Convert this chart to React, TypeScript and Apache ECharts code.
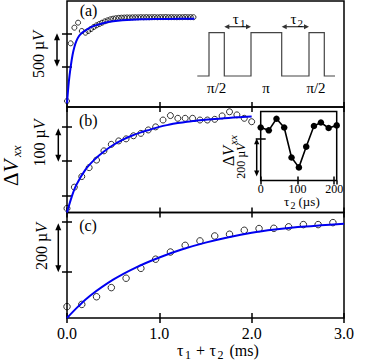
import React, { useEffect, useRef } from 'react';
import * as echarts from 'echarts';

// ---------- data ----------
// panel (a): time in ms, signal in µV (arbitrary offset)
const A_T = [0, 0.04, 0.08, 0.12, 0.16, 0.2, 0.23, 0.26, 0.29, 0.32, 0.35, 0.38, 0.41, 0.44, 0.47, 0.5, 0.53, 0.56, 0.59, 0.62, 0.65, 0.68, 0.71, 0.74, 0.77, 0.8, 0.83, 0.86, 0.89, 0.92, 0.95, 0.98, 1.01, 1.04, 1.07, 1.1, 1.13, 1.16, 1.19, 1.22, 1.25, 1.28, 1.31, 1.34, 1.37];
const A_V = [90, 955, 1190, 1265, 1140, 1115, 1140, 1170, 1200, 1225, 1245, 1265, 1285, 1300, 1315, 1325, 1332, 1337, 1340, 1342, 1344, 1343, 1345, 1346, 1345, 1347, 1346, 1348, 1346, 1347, 1348, 1346, 1348, 1347, 1349, 1347, 1348, 1347, 1346, 1348, 1347, 1349, 1347, 1348, 1347];
const A_FIT_T = [0, 0.02, 0.04, 0.06, 0.08, 0.1, 0.13, 0.16, 0.2, 0.25, 0.3, 0.4, 0.5, 0.6, 0.8, 1.0, 1.2, 1.38];
const A_FIT_V = [55, 380, 605, 780, 900, 985, 1065, 1110, 1150, 1190, 1220, 1260, 1285, 1300, 1315, 1320, 1322, 1323];

// panel (b)
const B_T = [0, 0.08, 0.16, 0.24, 0.32, 0.4, 0.48, 0.56, 0.64, 0.72, 0.8, 0.88, 0.96, 1.04, 1.12, 1.2, 1.28, 1.36, 1.44, 1.52, 1.6, 1.68, 1.76, 1.84, 1.92, 2.0];
const B_V = [12, 74, 105, 131, 153, 180, 199, 209, 215, 224, 231, 241, 250, 270, 283, 275, 275, 275, 270, 270, 272, 282, 294, 285, 275, 265];
const B_FIT_T = [0, 0.05, 0.1, 0.2, 0.3, 0.4, 0.5, 0.6, 0.7, 0.8, 0.9, 1.0, 1.1, 1.2, 1.3, 1.4, 1.5, 1.6, 1.7, 1.8, 1.9, 2.0];
const B_FIT_V = [0, 45, 80, 125, 155, 178, 197, 212, 224, 234, 242, 250, 256, 261, 265, 268, 271, 273, 275, 277, 279, 280];

// panel (c)
const C_T = [0, 0.16, 0.32, 0.48, 0.64, 0.8, 0.96, 1.12, 1.28, 1.44, 1.6, 1.76, 1.92, 2.08, 2.24, 2.4, 2.56, 2.72, 2.88];
const C_V = [46, 55, 86, 123, 161, 201, 238, 267, 294, 312, 332, 339, 355, 362, 363, 369, 378, 378, 386];
const C_FIT_T = [0, 0.125, 0.25, 0.5, 0.75, 1.0, 1.25, 1.5, 1.75, 2.0, 2.25, 2.5, 2.75, 3.0];
const C_FIT_V = [0, 48, 90, 155, 205, 245, 278, 305, 327, 345, 358, 368, 375, 381];

// inset: tau2 in µs, signal in µV
const IN_T = [0, 22, 43, 64, 84, 104, 124, 145, 164, 185, 207];
const IN_V = [279, 264, 325, 279, 121, 69, 178, 287, 305, 276, 290];

// axis tick values
const X_TICK_LABELS = ['0.0', '1.0', '2.0', '3.0'];
const A_TICKS = [600, 1100];
const B_TICKS = [50, 150, 250];
const C_TICKS = [188, 388];
const IN_TICKS = [222];

const SERIF = 'Liberation Serif';
const BLUE = '#0000f0';

const zip = (xs: number[], ys: number[]) => xs.map((x, i) => [x, ys[i]]);

function txt(x: number, y: number, text: string, size: number, opts: any = {}) {
  const align = opts.align || 'center';
  return {
    type: 'text', x, y, z: 20,
    style: {
      text, fontSize: size, fontFamily: SERIF, fill: opts.fill || '#000',
      fontStyle: opts.italic ? 'italic' : 'normal',
      align, verticalAlign: 'middle', textAlign: align, textVerticalAlign: 'middle',
      rich: opts.rich,
    },
  };
}

function muV(size: number) {
  return {
    n: { fontSize: size, fontFamily: SERIF, fill: '#000' },
    i: { fontSize: size, fontFamily: SERIF, fill: '#000', fontStyle: 'italic' },
  };
}

function rotLabel(x: number, y: number, text: string, size: number) {
  return {
    type: 'group', x, y, rotation: Math.PI / 2, z: 20,
    children: [txt(0, 0, text, size, { rich: muV(size) })],
  };
}

function vArrow(x: number, y1: number, y2: number, head = 7, half = 3) {
  return [
    { type: 'line', z: 20, shape: { x1: x, y1: y1 + head - 1, x2: x, y2: y2 - head + 1 }, style: { stroke: '#000', lineWidth: 1.5 } },
    { type: 'polygon', z: 20, shape: { points: [[x, y1], [x - half, y1 + head], [x + half, y1 + head]] }, style: { fill: '#000' } },
    { type: 'polygon', z: 20, shape: { points: [[x, y2], [x - half, y2 - head], [x + half, y2 - head]] }, style: { fill: '#000' } },
  ];
}

function hArrow(x1: number, x2: number, y: number, head = 5, half = 2.5) {
  return [
    { type: 'line', z: 20, shape: { x1: x1 + head - 1, y1: y, x2: x2 - head + 1, y2: y }, style: { stroke: '#333', lineWidth: 1.2 } },
    { type: 'polygon', z: 20, shape: { points: [[x1, y], [x1 + head, y - half], [x1 + head, y + half]] }, style: { fill: '#333' } },
    { type: 'polygon', z: 20, shape: { points: [[x2, y], [x2 - head, y - half], [x2 - head, y + half]] }, style: { fill: '#333' } },
  ];
}

const tickStyle = { color: '#000', width: 1.5 };

function xAxis(gridIndex: number, position: string, showLabel: boolean) {
  return {
    type: 'value', gridIndex, position, min: 0, max: 3, interval: 1,
    axisLine: { show: false },
    axisTick: { show: true, inside: true, length: 5, lineStyle: tickStyle },
    axisLabel: {
      show: showLabel, fontFamily: SERIF, fontSize: 16, color: '#000', margin: 7,
      showMinLabel: true, showMaxLabel: true,
      formatter: (v: number) => X_TICK_LABELS[Math.round(v)] ?? '',
    },
    splitLine: { show: false },
  };
}

function yAxis(gridIndex: number, position: string, max: number, ticks: number[]) {
  return {
    type: 'value', gridIndex, position, min: 0, max,
    axisLine: { show: false },
    axisTick: { show: true, inside: true, length: 5, lineStyle: tickStyle, customValues: ticks },
    axisLabel: { show: false },
    splitLine: { show: false },
  };
}

function circles(xi: number, yi: number, data: number[][], size: number) {
  return {
    type: 'scatter', xAxisIndex: xi, yAxisIndex: yi, data, symbol: 'circle', symbolSize: size,
    clip: false, z: 3,
    itemStyle: { color: 'rgba(255,255,255,0)', borderColor: '#000', borderWidth: 1 },
  };
}

function fit(xi: number, yi: number, data: number[][]) {
  return {
    type: 'line', xAxisIndex: xi, yAxisIndex: yi, data, showSymbol: false, symbol: 'none',
    smooth: 0.35, z: 4,
    lineStyle: { color: BLUE, width: 2 },
  };
}

const PULSE = [[197.3, 76], [209, 76], [209, 32.7], [224.3, 32.7], [224.3, 76], [251, 76], [251, 32.7], [281.7, 32.7], [281.7, 76], [309, 76], [309, 32.7], [324.3, 32.7], [324.3, 76], [335, 76]];

const graphics: any[] = [
  // pulse sequence sketch in panel (a)
  { type: 'polyline', z: 20, shape: { points: PULSE }, style: { stroke: '#444', lineWidth: 1.2, fill: 'none' } },
  ...hArrow(224.3, 251, 26.7),
  ...hArrow(281.7, 309, 26.7),
  txt(235.8, 18.5, 'τ', 15),
  txt(240, 23, '1', 11, { align: 'left' }),
  txt(293.5, 18.5, 'τ', 15),
  txt(297.5, 23, '2', 11, { align: 'left' }),
  txt(216.7, 88, 'π/2', 15),
  txt(266, 88, 'π', 15),
  txt(316, 88, 'π/2', 15),
  // panel letters
  txt(88.5, 10.5, '(a)', 16),
  txt(88.3, 120.5, '(b)', 16),
  txt(88, 225.5, '(c)', 16),
  // scale arrows
  ...vArrow(57, 33.3, 66.7),
  ...vArrow(58.3, 128.3, 161.7),
  ...vArrow(58.3, 223.3, 272.3),
  ...vArrow(256.7, 138.3, 176.5, 6, 2.6),
  rotLabel(38.5, 54.5, '{n|500 µ}{i|V}', 16),
  rotLabel(39.5, 143, '{n|100 µ}{i|V}', 16),
  rotLabel(41, 246.5, '{n|200 µ}{i|V}', 16),
  rotLabel(241, 161, '{n|200 µ}{i|V}', 12),
  // main ΔVxx label
  {
    type: 'group', x: 11, y: 186, rotation: Math.PI / 2, z: 20,
    children: [
      txt(0, 0, '{n|Δ}{i|V}', 21, { align: 'left', rich: muV(21) }),
      txt(29, 5.5, 'xx', 13, { align: 'left', italic: true }),
    ],
  },
  // inset ΔVxx label
  {
    type: 'group', x: 228.5, y: 166, rotation: Math.PI / 2, z: 20,
    children: [
      txt(0, 0, '{n|Δ}{i|V}', 16, { align: 'left', rich: muV(16) }),
      txt(21, 4, 'xx', 11, { align: 'left', italic: true }),
    ],
  },
  // main x title  τ1 + τ2 (ms)
  txt(177, 350, 'τ', 16, { align: 'left' }),
  txt(185, 355, '1', 12, { align: 'left' }),
  txt(196, 350, '+', 16, { align: 'left' }),
  txt(209.5, 350, 'τ', 16, { align: 'left' }),
  txt(217.5, 355, '2', 12, { align: 'left' }),
  txt(229.5, 350, '(ms)', 16, { align: 'left' }),
  // inset x title τ2 (µs)
  txt(284, 201, 'τ', 13, { align: 'left' }),
  txt(290.5, 205, '2', 10, { align: 'left' }),
  txt(298.5, 201, '(µs)', 13, { align: 'left' }),
];

const grids = [
  { left: 67, top: 1, width: 277, height: 106 },
  { left: 67, top: 107, width: 277, height: 105.5 },
  { left: 67, top: 212.5, width: 277, height: 105.5 },
  { left: 260.7, top: 111.5, width: 76, height: 69, backgroundColor: '#fff' },
].map((g) => ({ show: true, borderColor: '#000', borderWidth: 1.5, containLabel: false, ...g }));

const option: any = {
  animation: false,
  backgroundColor: '#fff',
  grid: grids,
  xAxis: [
    xAxis(0, 'bottom', false), xAxis(0, 'top', false),
    xAxis(1, 'bottom', false), xAxis(1, 'top', false),
    xAxis(2, 'bottom', true), xAxis(2, 'top', false),
    {
      type: 'value', gridIndex: 3, position: 'bottom', min: 0, max: 207, interval: 100,
      axisLine: { show: false },
      axisTick: { show: true, inside: true, length: 4, lineStyle: tickStyle },
      axisLabel: { show: true, fontFamily: SERIF, fontSize: 12, color: '#000', margin: 2, showMaxLabel: false },
      splitLine: { show: false },
    },
    {
      type: 'value', gridIndex: 3, position: 'top', min: 0, max: 207, interval: 100,
      axisLine: { show: false },
      axisTick: { show: true, inside: true, length: 4, lineStyle: tickStyle },
      axisLabel: { show: false },
      splitLine: { show: false },
    },
  ],
  yAxis: [
    yAxis(0, 'left', 1590, A_TICKS), yAxis(0, 'right', 1590, A_TICKS),
    yAxis(1, 'left', 308, B_TICKS), yAxis(1, 'right', 308, B_TICKS),
    yAxis(2, 'left', 427, C_TICKS), yAxis(2, 'right', 427, C_TICKS),
    yAxis(3, 'left', 363, IN_TICKS), yAxis(3, 'right', 363, IN_TICKS),
  ],
  series: [
    circles(0, 0, zip(A_T, A_V), 5),
    fit(0, 0, zip(A_FIT_T, A_FIT_V)),
    circles(2, 2, zip(B_T, B_V), 6),
    fit(2, 2, zip(B_FIT_T, B_FIT_V)),
    circles(4, 4, zip(C_T, C_V), 6.5),
    fit(4, 4, zip(C_FIT_T, C_FIT_V)),
    {
      type: 'line', xAxisIndex: 6, yAxisIndex: 6, data: zip(IN_T, IN_V), clip: false, z: 5,
      symbol: 'circle', symbolSize: 6.5, showSymbol: true,
      lineStyle: { color: '#000', width: 1.6 },
      itemStyle: { color: '#000' },
    },
  ],
  graphic: { elements: graphics },
};

export default function App() {
  const ref = useRef<HTMLDivElement>(null);
  useEffect(() => {
    const chart = echarts.init(ref.current as HTMLDivElement, null, { renderer: 'svg' });
    chart.setOption(option);
    return () => chart.dispose();
  }, []);
  return (
    <div
      ref={ref}
      style={{ position: 'fixed', left: 0, top: 0, width: 381, height: 364, background: '#fff' }}
    />
  );
}
